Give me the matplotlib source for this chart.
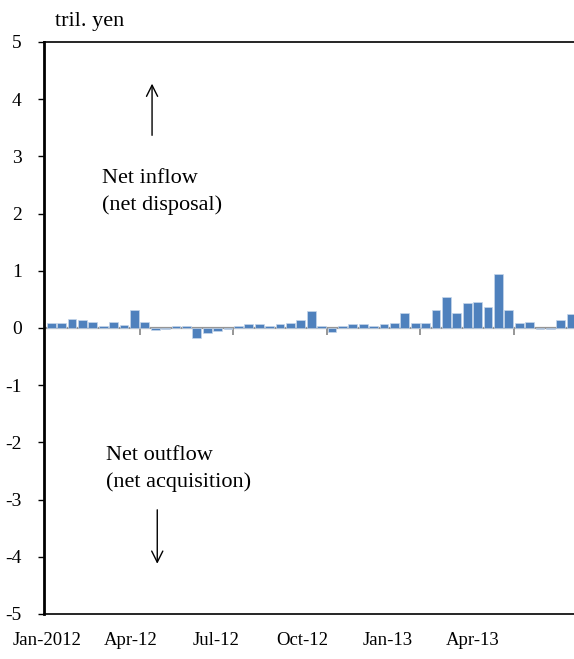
import numpy as np
import matplotlib.pyplot as plt
import matplotlib.transforms as mtransforms

plt.rcParams['font.family'] = ['Liberation Serif', 'DejaVu Serif']

# net flows, tril. yen, one bar per ten-day period from Jan-2012
flows = [0.09, 0.09, 0.16, 0.14, 0.11, 0.035, 0.11, 0.06, 0.32,
         0.11, -0.04, -0.01, 0.035, 0.035, -0.17, -0.09, -0.045, -0.01,
         0.035, 0.065, 0.065, 0.035, 0.065, 0.09, 0.145, 0.30, 0.035,
         -0.065, 0.035, 0.065, 0.065, 0.035, 0.065, 0.09, 0.27, 0.09,
         0.09, 0.32, 0.55, 0.26, 0.43, 0.45, 0.37, 0.95, 0.31,
         0.08, 0.11, -0.01, -0.01, 0.14, 0.24]
month_labels = ['Jan-2012', 'Apr-12', 'Jul-12', 'Oct-12', 'Jan-13', 'Apr-13']
label_pos = [-0.4, 7.6, 15.9, 24.1, 32.4, 40.5]
quarter_marks = [8.5, 17.5, 26.5, 35.5, 44.5]

x = np.arange(len(flows))

fig = plt.figure(figsize=(5.74, 6.59), dpi=100)
ax = fig.add_axes([44/574, 1-614/659, 1-44/574, (614-42)/659])

ax.bar(x, flows, width=0.86, color='#4F81BD', edgecolor='#c6d6ea', linewidth=0.5, zorder=3)
ax.axhline(0, color='#969696', linewidth=1.6, zorder=2)
ax.vlines(quarter_marks, -0.12, 0, color='#969696', linewidth=1.4, zorder=2)

ax.set_xlim(-0.69, 50.27)
ax.set_ylim(-5, 5)
ax.set_yticks(range(-5, 6))
ax.set_yticklabels([str(v) for v in range(-5, 6)])
ax.tick_params(axis='y', direction='out', length=4, width=1, pad=12, labelsize=14)
ax.set_xticks(label_pos)
ax.set_xticklabels(month_labels)
ax.tick_params(axis='x', length=0, pad=13, labelsize=13.5)

ax.spines['right'].set_visible(False)
ax.spines['left'].set_linewidth(2)
ax.spines['top'].set_linewidth(1.2)
ax.spines['bottom'].set_linewidth(1.2)

top_trans = mtransforms.blended_transform_factory(ax.transData, ax.transAxes)
ax.text(0.37, 1.02, 'tril. yen', transform=top_trans, fontsize=16, ha='left', va='bottom')
ax.text(4.86, 2.38, 'Net inflow\n(net disposal)', fontsize=16, ha='left', va='center', linespacing=1.5)
ax.text(5.27, -2.47, 'Net outflow\n(net acquisition)', fontsize=16, ha='left', va='center', linespacing=1.5)

ax.annotate('', xy=(9.7, 4.32), xytext=(9.7, 3.32),
            arrowprops=dict(arrowstyle='->', color='black', lw=1, mutation_scale=20))
ax.annotate('', xy=(10.2, -4.17), xytext=(10.2, -3.13),
            arrowprops=dict(arrowstyle='->', color='black', lw=1, mutation_scale=20))

fig.savefig('out.png', dpi=100)
